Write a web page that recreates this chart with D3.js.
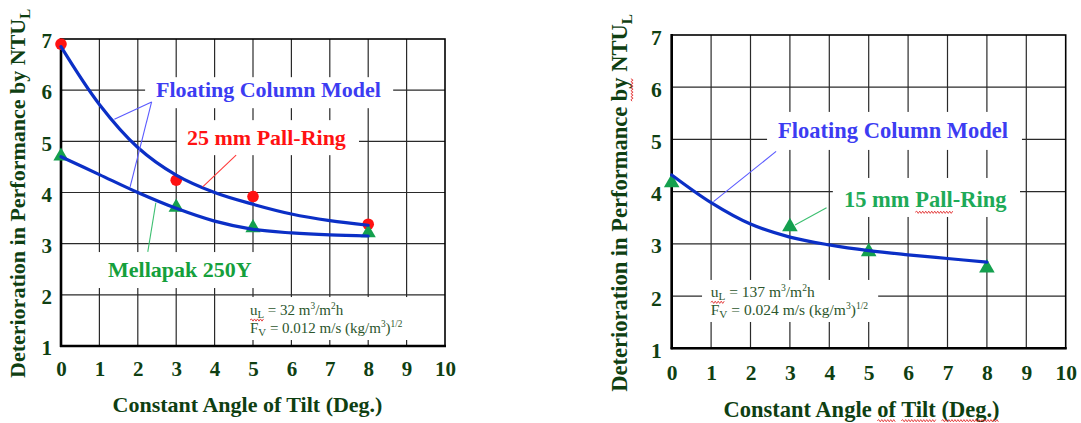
<!DOCTYPE html>
<html><head><meta charset="utf-8">
<script src="https://cdn.jsdelivr.net/npm/d3@7"></script>
<style>
html,body{margin:0;padding:0;background:#fff;}
svg{display:block;}
</style></head>
<body>
<svg id="chart" width="1081" height="423"></svg>
<script>
// ---------- data ----------
const xTicks = [0,1,2,3,4,5,6,7,8,9,10];
const yTicks = [1,2,3,4,5,6,7];
const angles = [0, 3, 5, 8];
const pall25 = [6.9, 4.24, 3.92, 3.38];
const mellapak = [4.71, 3.71, 3.31, 3.21];
const pall15 = [4.17, 3.33, 2.85, 2.54];
const modelX = [0,1,2,3,4,5,6,7,8];
const modelPall25 = [6.85, 5.72, 4.88, 4.34, 4.00, 3.77, 3.58, 3.45, 3.36];
const modelMellapak = [4.70, 4.35, 4.00, 3.69, 3.44, 3.28, 3.21, 3.17, 3.15];
const modelPall15 = [4.32, 3.79, 3.38, 3.13, 2.98, 2.87, 2.79, 2.72, 2.65];
const xTitle = "Constant Angle of Tilt (Deg.)";
const yTitle = "Deterioration in Performance by NTU";

const FONT = "'Liberation Serif', 'Times New Roman', serif";
const svg = d3.select("#chart").style("font-family", FONT);
const C = {
  tick:"#0f3f12", ann:"#2c562c", blue:"#3c3cf2", red:"#ff1212",
  green:"#15a03c", green2:"#1eaa58", tri:"#14a04e", curve:"#0b2fc6",
  leadBlue:"#5a5aff", leadRed:"#ff3a3a", leadGreen:"#3cbf70", grid:"#2a2a2a"
};

function squiggle(g, x0, x1, y){
  let d = "M"+x0+","+y; let up = true;
  for(let x=x0+1.5; x<=x1; x+=1.5){ d += "L"+x+","+(y+(up?-1.1:1.1)); up=!up; }
  g.append("path").attr("d", d).attr("fill","none").attr("stroke","#e23030").attr("stroke-width",0.9);
}
function squiggleChars(g, textNode, i0, i1, y){
  const a = textNode.getExtentOfChar(i0), b = textNode.getExtentOfChar(i1);
  squiggle(g, a.x, b.x+b.width, y);
}

function panel(cfg){
  const x = d3.scaleLinear().domain([0,10]).range(cfg.xr);
  const y = d3.scaleLinear().domain([1,7]).range(cfg.yr);
  const g = svg.append("g");

  // grid
  g.append("g").selectAll("line").data(xTicks.slice(1,-1)).join("line")
    .attr("x1",d=>x(d)).attr("x2",d=>x(d)).attr("y1",y(1)).attr("y2",y(7))
    .attr("stroke",C.grid).attr("stroke-width",1.2);
  g.append("g").selectAll("line").data(yTicks.slice(1,-1)).join("line")
    .attr("x1",x(0)).attr("x2",x(10)).attr("y1",d=>y(d)).attr("y2",d=>y(d))
    .attr("stroke",C.grid).attr("stroke-width",1.2);

  // white label boxes
  cfg.boxes.forEach(b=>{
    g.append("rect").attr("x",x(b[0])).attr("y",y(b[1]))
      .attr("width",x(b[2])-x(b[0])).attr("height",y(b[3])-y(b[1])).attr("fill","#fff");
  });

  // frame
  g.append("rect").attr("x",x(0)).attr("y",y(7)).attr("width",x(10)-x(0)).attr("height",y(1)-y(7))
    .attr("fill","none").attr("stroke","#000").attr("stroke-width",1.6);
  g.append("line").attr("x1",x(0)).attr("x2",x(0)).attr("y1",y(7)-1).attr("y2",y(1)+1).attr("stroke","#000").attr("stroke-width",2.6);
  g.append("line").attr("x1",x(0)-1).attr("x2",x(10)+1).attr("y1",y(1)).attr("y2",y(1)).attr("stroke","#000").attr("stroke-width",2.6);

  // axes labels
  const ax = g.append("g").attr("transform",`translate(0,${y(1)})`)
    .call(d3.axisBottom(x).tickValues(xTicks).tickSize(0).tickPadding(cfg.xPad).tickFormat(d3.format("d")));
  ax.attr("font-family", null).attr("font-size", null);
  ax.select(".domain").remove();
  ax.selectAll("text").attr("fill",C.tick).style("font-size",cfg.tickFs+"px").style("font-weight","bold")
    .style("font-family",FONT);
  const ay = g.append("g").attr("transform",`translate(${x(0)},0)`)
    .call(d3.axisLeft(y).tickValues(yTicks).tickSize(0).tickPadding(cfg.yPad).tickFormat(d3.format("d")));
  ay.attr("font-family", null).attr("font-size", null);
  ay.select(".domain").remove();
  ay.selectAll("text").attr("fill",C.tick).style("font-size",cfg.tickFs+"px").style("font-weight","bold")
    .style("font-family",FONT).attr("dy","0.42em");

  // titles
  const xt = g.append("text").attr("x",cfg.xTitle[0]).attr("y",cfg.xTitle[1]).attr("text-anchor","middle")
    .attr("fill",C.tick).style("font-size",cfg.titleFs+"px").style("font-weight","bold").text(xTitle);
  const yg = g.append("g").attr("transform",`translate(${cfg.yTitle[0]},${cfg.yTitle[1]}) rotate(-90)`);
  const yt = yg.append("text").attr("x",0).attr("y",0).attr("fill",C.tick)
    .style("font-size",cfg.titleFs+"px").style("font-weight","bold");
  yt.append("tspan").text(yTitle);
  yt.append("tspan").style("font-size",(cfg.titleFs*0.68)+"px").attr("dy",5).text("L");

  // markers
  const line = d3.line().x((d,i)=>x(modelX[i])).y(d=>y(d)).curve(d3.curveCatmullRom.alpha(0.5));
  if(cfg.circles) g.append("g").selectAll("circle").data(cfg.circles).join("circle")
    .attr("cx",(d,i)=>x(angles[i])).attr("cy",d=>y(d)).attr("r",5.8).attr("fill",C.red);
  cfg.tris.forEach(arr=>{
    g.append("g").selectAll("path").data(arr).join("path")
      .attr("d",d3.symbol(d3.symbolTriangle, cfg.triSize))
      .attr("transform",(d,i)=>`translate(${x(angles[i])},${y(d)})`).attr("fill",C.tri);
  });
  cfg.curves.forEach(arr=>{
    g.append("path").datum(arr).attr("d",line).attr("fill","none")
      .attr("stroke",C.curve).attr("stroke-width",3.2).attr("stroke-linecap","round");
  });

  // leader lines
  cfg.leaders.forEach(l=>{
    g.append("line").attr("x1",x(l[0])).attr("y1",y(l[1])).attr("x2",x(l[2])).attr("y2",y(l[3]))
      .attr("stroke",l[4]).attr("stroke-width",1.1);
  });

  // labels
  const labels = {};
  cfg.labels.forEach(l=>{
    labels[l.key] = g.append("text").attr("x",x(l.at[0])).attr("y",y(l.at[1]))
      .attr("fill",l.color).style("font-size",cfg.labelFs+"px").style("font-weight","bold").text(l.text);
  });

  // annotation
  const fs = cfg.annFs;
  const a1 = g.append("text").attr("x",x(cfg.ann[0])).attr("y",y(cfg.ann[1]))
    .attr("fill",C.ann).style("font-size",fs+"px");
  a1.append("tspan").text("u");
  a1.append("tspan").style("font-size",(fs*0.72)+"px").attr("dy",3).text("L");
  a1.append("tspan").attr("dy",-3).text(" = " + cfg.uL + " m");
  a1.append("tspan").style("font-size",(fs*0.62)+"px").attr("dy",-6).text("3");
  a1.append("tspan").attr("dy",6).text("/m");
  a1.append("tspan").style("font-size",(fs*0.62)+"px").attr("dy",-6).text("2");
  a1.append("tspan").attr("dy",6).text("h");
  const a2 = g.append("text").attr("x",x(cfg.ann[0])).attr("y",y(cfg.ann[2]))
    .attr("fill",C.ann).style("font-size",fs+"px");
  a2.append("tspan").text("F");
  a2.append("tspan").style("font-size",(fs*0.72)+"px").attr("dy",3).text("V");
  a2.append("tspan").attr("dy",-3).text(" = " + cfg.Fv + " m/s (kg/m");
  a2.append("tspan").style("font-size",(fs*0.62)+"px").attr("dy",-6).text("3");
  a2.append("tspan").attr("dy",6).text(")");
  a2.append("tspan").style("font-size",(fs*0.62)+"px").attr("dy",-6).text("1/2");

  // spell-check squiggles
  squiggleChars(g, a1.node(), 0, 1, y(cfg.ann[1])+5);
  if(cfg.squig){
    const s = yTitle.indexOf("by");
    squiggleChars(yg, yt.node(), s, s+1, 5);
    [["of",2],["Tilt",4],["(Deg.)",6]].forEach(([w,n])=>{
      const i = xTitle.indexOf(w);
      squiggleChars(g, xt.node(), i, i+n-1, cfg.xTitle[1]+4);
    });
    squiggleChars(g, labels.pall.node(), 6, 9, y(cfg.labels.find(l=>l.key==="pall").at[1])+5);
  }
}

panel({
  xr:[61,445], yr:[346,39], xPad:15, yPad:9, tickFs:21, titleFs:22, labelFs:22, annFs:15, triSize:100,
  xTitle:[247.5,411.7], yTitle:[25,378],
  boxes:[[2.19,6.254,8.65,5.648],[3.02,5.414,7.76,4.73],[0.885,2.836,5.13,2.133],[4.66,1.957,9.27,1.117]],
  circles: pall25, tris:[mellapak], curves:[modelPall25, modelMellapak],
  leaders:[[2.36,5.77,1.39,5.43,C.leadBlue],[2.36,5.77,1.80,4.11,C.leadBlue],
           [4.56,4.73,3.69,4.11,C.leadRed],[2.47,3.80,2.26,2.84,C.leadGreen]],
  labels:[{key:"fcm",text:"Floating Column Model",at:[2.474,5.869],color:C.blue},
          {key:"p25",text:"25 mm Pall-Ring",at:[3.281,4.926],color:C.red},
          {key:"mel",text:"Mellapak 250Y",at:[1.224,2.348],color:C.green}],
  ann:[4.922,1.605,1.248], uL:"32", Fv:"0.012", squig:false
});
panel({
  xr:[671.7,1065.7], yr:[348.3,35], xPad:16, yPad:10, tickFs:21.5, titleFs:22.5, labelFs:22.5, annFs:15.5, triSize:105,
  xTitle:[861.5,416.7], yTitle:[627,391.7],
  boxes:[[2.42,5.527,8.89,4.799],[4.09,4.262,8.84,3.515],[0.77,2.309,5.24,1.504]],
  circles:null, tris:[pall15], curves:[modelPall15],
  leaders:[[2.65,4.77,1.06,3.81,C.leadBlue],[3.93,3.69,3.13,3.36,C.leadGreen]],
  labels:[{key:"fcm",text:"Floating Column Model",at:[2.698,5.023],color:C.blue},
          {key:"pall",text:"15 mm Pall-Ring",at:[4.373,3.701],color:C.green2}],
  ann:[0.99,1.977,1.638], uL:"137", Fv:"0.024", squig:true
});
</script>
</body></html>
